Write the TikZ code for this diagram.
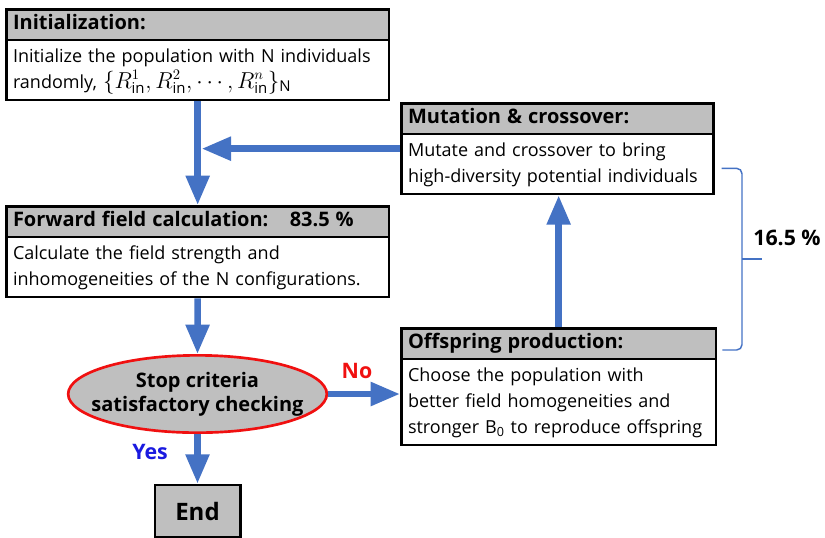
\documentclass[tikz,border=0pt]{standalone}
\usepackage{fontspec}
\setmainfont{Open Sans}
\usetikzlibrary{positioning,arrows.meta,calc,shapes.multipart,shapes.geometric}
\definecolor{cHead}{HTML}{BFBFBF}
\definecolor{cFlow}{HTML}{4472C4}
\definecolor{cStop}{HTML}{F01010}
\definecolor{cYes}{HTML}{1A1AE0}
\newcommand{\hdtext}[1]{{\fontsize{15}{17}\selectfont\bfseries\strut #1}}

\begin{document}
\begin{tikzpicture}[x=0.75pt,y=-0.75pt,
      box/.style={rectangle split,rectangle split parts=2,rectangle split part fill={cHead,white},
                  draw=black,line width=2pt,anchor=north west,align=left,
                  inner xsep=5pt,inner ysep=2pt,font=\fontsize{13.5}{19.5}\selectfont},
      flow/.style={-{Triangle[length=22pt,width=17pt]},cFlow,line width=4.8pt},
      brace/.style={cFlow,line width=1.1pt,rounded corners=4pt},
      lab/.style={font=\fontsize{16}{19}\selectfont\bfseries}]
    \useasboundingbox (0,0) rectangle (825,537);
    % left column
    \node[box,text width=277pt] (init) at (5,8)
      {\hdtext{Initialization:}\nodepart{two}\strut Initialize the population with N individuals\\
       randomly, {\fontsize{16}{19.5}\selectfont$\{R_{\mathrm{in}}^{1}, R_{\mathrm{in}}^{2}, \cdots, R_{\mathrm{in}}^{n}\}_{\mathrm{N}}$}\strut};
    \node[box,text width=277pt] (fwd) at (5,205)
      {\hdtext{Forward field calculation:\hspace{16pt}83.5 \%}\nodepart{two}\strut Calculate the field strength and\\
       inhomogeneities of the N configurations.\strut};
    \node[ellipse,draw=cStop,line width=2pt,fill=cHead,minimum width=194pt,minimum height=58pt,
          inner xsep=-14pt,inner ysep=0pt,align=center,font=\fontsize{15}{18}\selectfont\bfseries] (stop) at (197.5,394)
      {Stop criteria\\ satisfactory checking};
    \node[draw=black,fill=cHead,line width=2pt,minimum width=64pt,minimum height=39pt,
          font=\fontsize{18}{20}\selectfont\bfseries] (end) at (197.5,511) {End};
    % right column
    \node[box,text width=224pt] (mut) at (400,102)
      {\hdtext{Mutation \& crossover:}\nodepart{two}\strut Mutate and crossover to bring\\
       high-diversity potential individuals\strut};
    \node[box,text width=226pt] (off) at (400,327)
      {\hdtext{Offspring production:}\nodepart{two}\strut Choose the population with\\
       better field homogeneities and\\ stronger B\textsubscript{0} to reproduce offspring\strut};
    % arrows
    \draw[flow] (init.south) -- (fwd.north);
    \draw[flow] (mut.west) -- ($(mut.west -| init.south)+(4,0)$);
    \draw[flow] (fwd.south) -- (stop.north);
    \draw[flow] (stop.east) -- (stop.east -| off.west);
    \draw[flow] (stop.south) -- (end.north);
    \draw[flow] (off.north) -- (off.north |- mut.south);
    \node[lab,text=cStop] (no) at (357,371) {No};
    \node[lab,text=cYes] (yes) at (150,452) {Yes};
    % share of run time
    \coordinate (bt) at ($(mut.south east)+(7,-27)$);
    \coordinate (bb) at ($(off.north east)+(5,23)$);
    \coordinate (bm) at ($(bt)!0.5!(bb)+(20,0)$);
    \draw[brace] (bt) -| (bm) |- (bb);
    \draw[cFlow,line width=1.1pt] (bm) -- ++(20,0);
    \node[lab] (share) at ($(bm)+(45,-21)$) {16.5 \%};
\end{tikzpicture}
\end{document}
